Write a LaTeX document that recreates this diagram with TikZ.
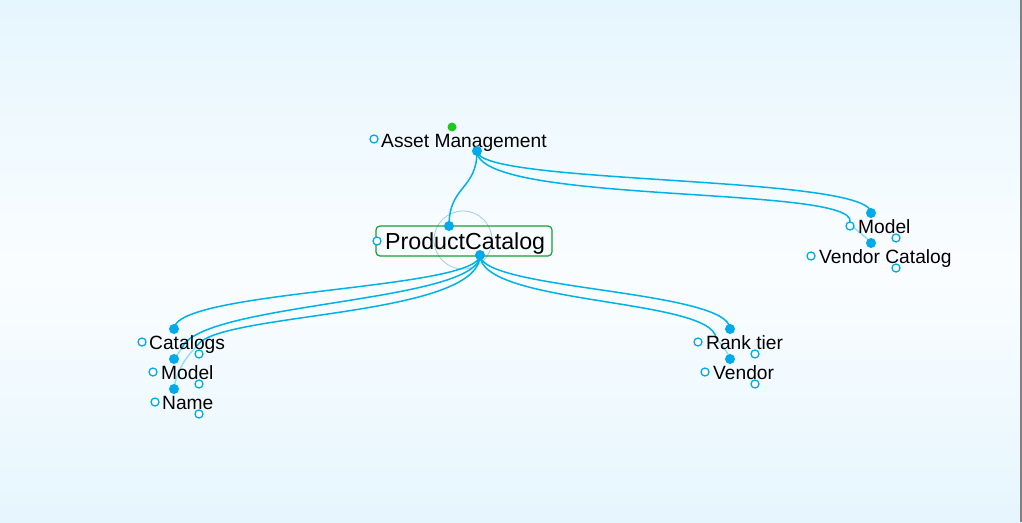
\documentclass[tikz,border=0pt]{standalone}
\usepackage{fontspec}
\setmainfont{Liberation Sans}
\definecolor{bgblue}{RGB}{230,246,254}
\definecolor{bgwhite}{RGB}{250,253,255}
\definecolor{linkblue}{RGB}{0,178,230}
\definecolor{dotblue}{RGB}{0,170,235}
\definecolor{ringblue}{RGB}{160,205,240}
\definecolor{boxgreen}{RGB}{20,160,50}
\definecolor{topgreen}{RGB}{30,200,30}
\begin{document}
\begin{tikzpicture}[x=1pt,y=-1pt,
  lbl/.style={anchor=base west,inner sep=0pt,font=\fontsize{19.2}{22}\selectfont,text=black},
  rootlbl/.style={anchor=base west,inner sep=0pt,font=\fontsize{23.2}{27}\selectfont,text=black},
  fdot/.style={circle,fill=dotblue,inner sep=0pt,minimum size=10pt},
  odot/.style={circle,draw=dotblue,fill=white,line width=1.3pt,inner sep=0pt,minimum size=8pt},
  link/.style={draw=linkblue,line width=1.5pt},
  faint/.style={draw=linkblue!45,line width=1.3pt}]
\useasboundingbox (0,0) rectangle (1022,522);
\fill[top color=bgblue,bottom color=bgwhite] (0,0) rectangle (1022,270);
\fill[top color=bgwhite,bottom color=bgblue] (0,270) rectangle (1022,522);
\draw[gray,line width=1.5pt] (1021,0) -- (1021,522);

% anchor points
\coordinate (amb) at (477,151);
\coordinate (pct) at (449,226);
\coordinate (pcb) at (480,255);
\coordinate (mrt) at (871,213);
\coordinate (mro) at (850,226);
\coordinate (vct) at (871,243);
\coordinate (rtt) at (730,329);
\coordinate (vdt) at (730,359);
\coordinate (catt) at (174,329);
\coordinate (catb) at (199,354);
\coordinate (mlt) at (174,359);
\coordinate (nmt) at (174,389);
\coordinate (rtj) at (716,338);
\coordinate (mlj) at (182,348);
\coordinate (nmj) at (197,346);
\coordinate (vcj) at (850,222);

% Root
\draw[ringblue,line width=0.8pt] (463,240) circle (29);
\node[draw=boxgreen,line width=1.2pt,rounded corners=4pt,minimum width=176pt,minimum height=30pt,inner sep=0pt] (pcbox) at (464,241) {};
\node[rootlbl] (pc) at (385,249.5) {ProductCatalog};

% connectors
\path[link] (amb) .. controls (477,190) and (449,185) .. (pct);
\path[link] (amb) .. controls (477,185) and (871,175) .. (mrt);
\path[link] (amb) .. controls (477,205) and (858,185) .. (vcj);
\path[faint] (vcj) .. controls (856,232) and (866,236) .. (vct);
\path[link] (pcb) .. controls (480,290) and (730,290) .. (rtt);
\path[link] (pcb) .. controls (480,305) and (712,298) .. (rtj);
\path[faint] (rtj) .. controls (722,346) and (728,352) .. (vdt);
\path[link] (pcb) .. controls (480,290) and (174,290) .. (catt);
\path[link] (pcb) .. controls (480,303) and (200,302) .. (mlj);
\path[faint] (mlj) -- (mlt);
\path[link] (pcb) .. controls (480,318) and (215,312) .. (nmj);
\path[faint] (nmj) .. controls (185,358) and (176,372) .. (nmt);

% Asset management
\node[lbl] (am) at (381,147) {Asset Management};
\node[circle,fill=topgreen,inner sep=0pt,minimum size=9pt] (amg) at (452,127) {};
\node[odot] (amo) at (374,139) {};
\node[fdot] (ambd) at (amb) {};

% product catalog dots
\node[odot] (pco) at (377,241) {};
\node[fdot] (pctd) at (pct) {};
\node[fdot] (pcbd) at (pcb) {};

% right top
\node[lbl] (mr) at (858,233) {Model};
\node[fdot] (mrtd) at (mrt) {};
\node[odot] (mrod) at (mro) {};
\node[odot] (mrb) at (896,238) {};
\node[lbl] (vc) at (819,263) {Vendor Catalog};
\node[fdot] (vctd) at (vct) {};
\node[odot] (vco) at (811,256) {};
\node[odot] (vcb) at (896,268) {};

% left children
\node[lbl] (cat) at (149,349) {Catalogs};
\node[fdot] (cattd) at (catt) {};
\node[odot] (cato) at (142,342) {};
\node[odot] (catbd) at (catb) {};
\node[lbl] (ml) at (161,379) {Model};
\node[fdot] (mltd) at (mlt) {};
\node[odot] (mlo) at (153,372) {};
\node[odot] (mlb) at (199,384) {};
\node[lbl] (nm) at (162,409) {Name};
\node[fdot] (nmtd) at (nmt) {};
\node[odot] (nmo) at (155,402) {};
\node[odot] (nmb) at (199,414) {};

% right children
\node[lbl] (rt) at (706,349) {Rank tier};
\node[fdot] (rttd) at (rtt) {};
\node[odot] (rto) at (698,342) {};
\node[odot] (rtb) at (755,354) {};
\node[lbl] (vd) at (713,379) {Vendor};
\node[fdot] (vdtd) at (vdt) {};
\node[odot] (vdo) at (705,372) {};
\node[odot] (vdb) at (755,384) {};
\end{tikzpicture}
\end{document}
